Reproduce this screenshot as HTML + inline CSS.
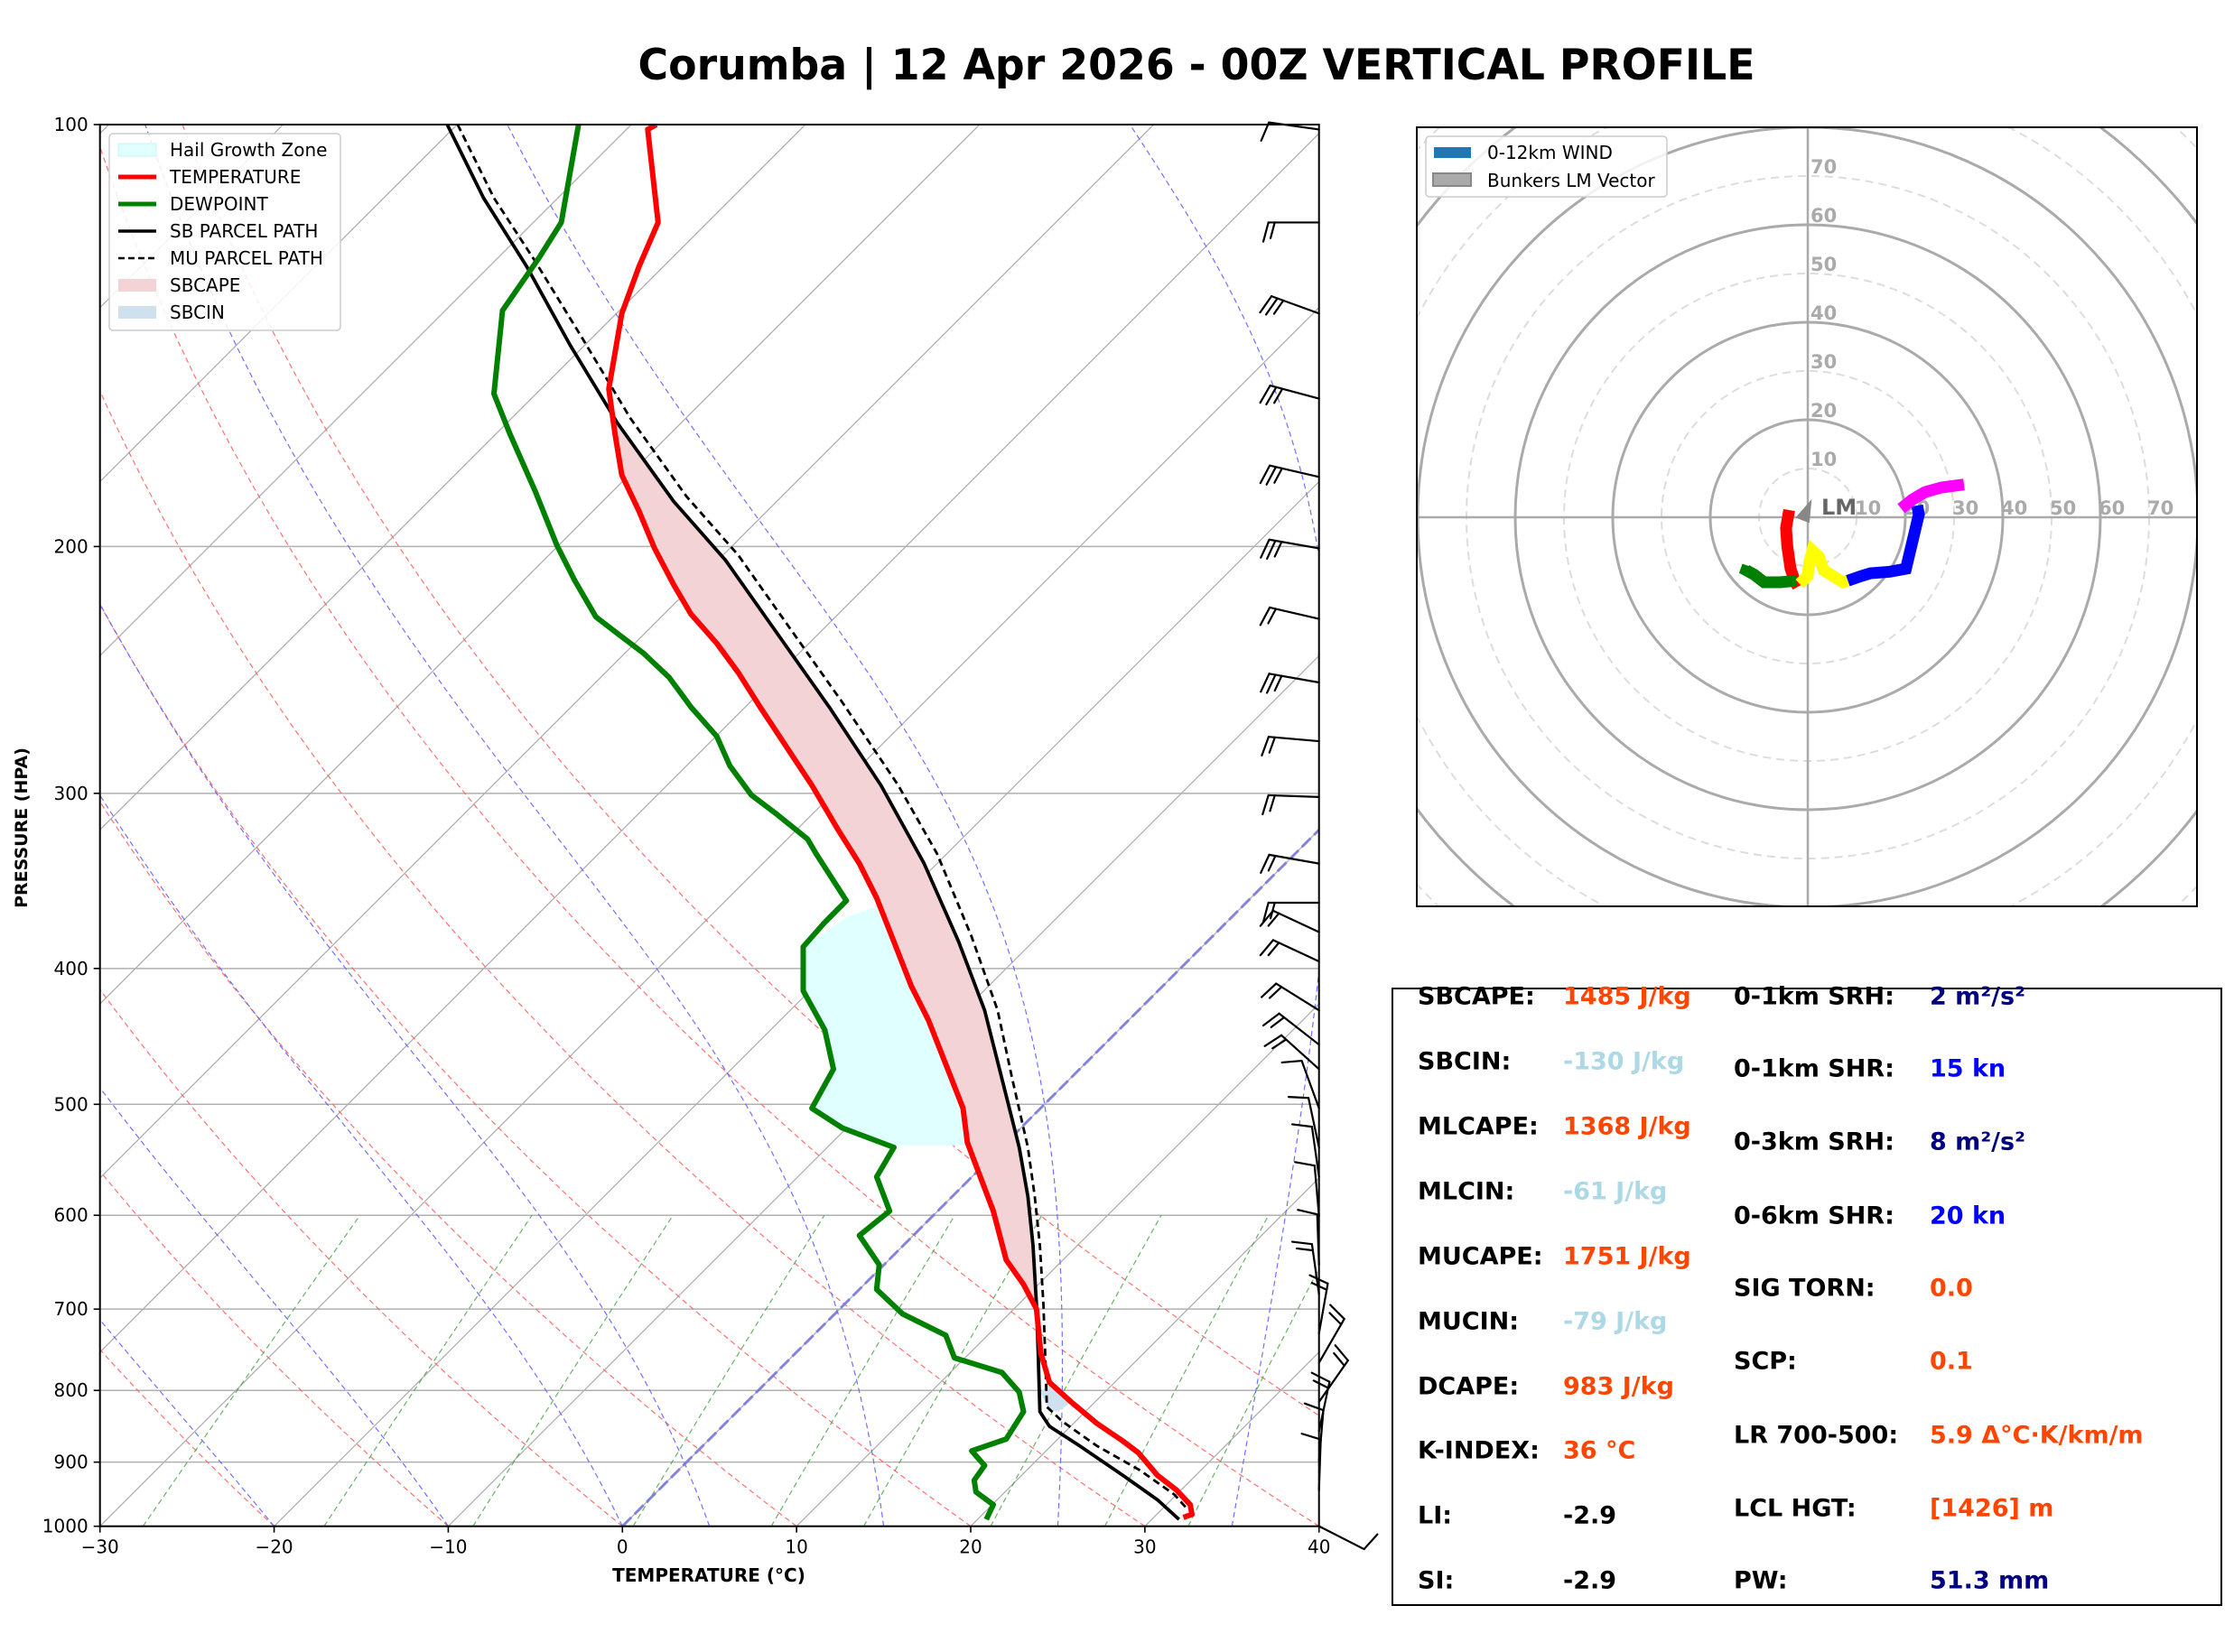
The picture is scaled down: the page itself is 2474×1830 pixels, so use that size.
<!DOCTYPE html>
<html><head><meta charset="utf-8">
<style>
html,body{margin:0;padding:0;background:#fff;}
svg{display:block;font-family:"DejaVu Sans","Liberation Sans",sans-serif;}
</style></head>
<body>
<svg id="s" width="2474" height="1830" viewBox="0 0 2474 1830" xmlns="http://www.w3.org/2000/svg">
<defs>
<clipPath id="ca"><rect x="110.7" y="138" width="1350" height="1552.7"/></clipPath>
<clipPath id="ch"><rect x="1569" y="141" width="864" height="863"/></clipPath>
</defs>
<rect width="2474" height="1830" fill="#fff"/>
<g id="skew" clip-path="url(#ca)"></g>
<g id="barbs" stroke="#000" stroke-width="2.2" fill="none" stroke-linecap="round"></g>
<rect x="110.7" y="138" width="1350" height="1552.7" fill="none" stroke="#000" stroke-width="2"/>
<g id="ticks" font-size="20" fill="#000"></g>
<text x="785" y="1752" font-size="20" font-weight="bold" text-anchor="middle">TEMPERATURE (°C)</text>
<text transform="translate(30,917) rotate(-90)" font-size="19" font-weight="bold" text-anchor="middle">PRESSURE (HPA)</text>
<text x="1325" y="88" font-size="47" font-weight="bold" text-anchor="middle" textLength="1237" lengthAdjust="spacingAndGlyphs">Corumba | 12 Apr 2026 - 00Z VERTICAL PROFILE</text>

<g font-size="20">
<rect x="121" y="148" width="256" height="218" rx="4" fill="#fff" fill-opacity="0.85" stroke="#ccc" stroke-width="1.5"/>
<rect x="131" y="159" width="42" height="14" fill="#e0ffff" stroke="#c8f4f4"/>
<text x="188" y="173">Hail Growth Zone</text>
<line x1="131" y1="196" x2="173" y2="196" stroke="#f00" stroke-width="5"/>
<text x="188" y="203">TEMPERATURE</text>
<line x1="131" y1="226" x2="173" y2="226" stroke="#008000" stroke-width="5"/>
<text x="188" y="233">DEWPOINT</text>
<line x1="131" y1="256" x2="173" y2="256" stroke="#000" stroke-width="3.5"/>
<text x="188" y="263">SB PARCEL PATH</text>
<line x1="131" y1="286" x2="173" y2="286" stroke="#000" stroke-width="2.5" stroke-dasharray="7,4"/>
<text x="188" y="293">MU PARCEL PATH</text>
<rect x="131" y="309" width="42" height="14" fill="#f4d3d6"/>
<text x="188" y="323">SBCAPE</text>
<rect x="131" y="339" width="42" height="14" fill="#cfe0ee"/>
<text x="188" y="353">SBCIN</text>
</g>

<g id="hodo" clip-path="url(#ch)"></g>
<rect x="1569" y="141" width="864" height="863" fill="none" stroke="#000" stroke-width="2"/>
<g font-size="20">
<rect x="1579" y="151" width="267" height="67" rx="4" fill="#fff" fill-opacity="0.85" stroke="#ccc" stroke-width="1.5"/>
<rect x="1588" y="163" width="41" height="12" fill="#1f77b4"/>
<text x="1647" y="176">0-12km WIND</text>
<rect x="1587" y="192" width="42" height="14" fill="#aaa" stroke="#888" stroke-width="2"/>
<text x="1647" y="207">Bunkers LM Vector</text>
</g>

<rect x="1542" y="1095" width="918" height="683" fill="none" stroke="#000" stroke-width="2"/>
<g font-size="27" font-weight="bold" dominant-baseline="central">
<text x="1570" y="1104">SBCAPE:</text><text x="1731" y="1104" fill="#ff4500">1485 J/kg</text>
<text x="1570" y="1176">SBCIN:</text><text x="1731" y="1176" fill="#add8e6">-130 J/kg</text>
<text x="1570" y="1248">MLCAPE:</text><text x="1731" y="1248" fill="#ff4500">1368 J/kg</text>
<text x="1570" y="1320">MLCIN:</text><text x="1731" y="1320" fill="#add8e6">-61 J/kg</text>
<text x="1570" y="1392">MUCAPE:</text><text x="1731" y="1392" fill="#ff4500">1751 J/kg</text>
<text x="1570" y="1464">MUCIN:</text><text x="1731" y="1464" fill="#add8e6">-79 J/kg</text>
<text x="1570" y="1536">DCAPE:</text><text x="1731" y="1536" fill="#ff4500">983 J/kg</text>
<text x="1570" y="1607">K-INDEX:</text><text x="1731" y="1607" fill="#ff4500">36 °C</text>
<text x="1570" y="1679">LI:</text><text x="1731" y="1679">-2.9</text>
<text x="1570" y="1751">SI:</text><text x="1731" y="1751">-2.9</text>
<text x="1920" y="1104">0-1km SRH:</text><text x="2137" y="1104" fill="#000080">2 m²/s²</text>
<text x="1920" y="1184">0-1km SHR:</text><text x="2137" y="1184" fill="#0000ff">15 kn</text>
<text x="1920" y="1265">0-3km SRH:</text><text x="2137" y="1265" fill="#000080">8 m²/s²</text>
<text x="1920" y="1347">0-6km SHR:</text><text x="2137" y="1347" fill="#0000ff">20 kn</text>
<text x="1920" y="1427">SIG TORN:</text><text x="2137" y="1427" fill="#ff4500">0.0</text>
<text x="1920" y="1508">SCP:</text><text x="2137" y="1508" fill="#ff4500">0.1</text>
<text x="1920" y="1590">LR 700-500:</text><text x="2137" y="1590" fill="#ff4500">5.9 Δ°C·K/km/m</text>
<text x="1920" y="1671">LCL HGT:</text><text x="2137" y="1671" fill="#ff4500">[1426] m</text>
<text x="1920" y="1751">PW:</text><text x="2137" y="1751" fill="#000080">51.3 mm</text>
</g>
</svg>
<script>
(function(){
var NS="http://www.w3.org/2000/svg";
function el(parent,tag,attrs,txt){var e=document.createElementNS(NS,tag);for(var k in attrs)e.setAttribute(k,attrs[k]);if(txt!==undefined)e.textContent=txt;parent.appendChild(e);return e;}
var B=1690.7,L=110.7,H=1552.7,PX=19.286;
function yp(p){return B-Math.log10(1000/p)*H;}
function xy(T,p){var y=yp(p);return [L+(T+30)*PX+(B-y),y];}
function pts(a){return a.map(function(q){return q[0].toFixed(1)+","+q[1].toFixed(1);}).join(" ");}
var g=document.getElementById("skew");
for(var p=100;p<=1000;p+=100){var y=yp(p);el(g,"line",{x1:L,x2:L+1350,y1:y,y2:y,stroke:"#b0b0b0","stroke-width":1.5});}
for(var T=-130;T<=40;T+=10){var x=L+(T+30)*PX;el(g,"line",{x1:x,y1:B,x2:x+H,y2:B-H,stroke:"#b0b0b0","stroke-width":1.3});}
for(var T=-30;T<=50;T+=10){var a=[];for(var p=1000;p>=100;p-=10){var t=(T+273.15)*Math.pow(p/1000,0.2857)-273.15;a.push(xy(t,p));}
el(g,"polyline",{points:pts(a),fill:"none",stroke:"#ff6060","stroke-width":1.2,"stroke-dasharray":"6,4","stroke-opacity":0.9});}
var Rd=287.04,Cp=1005.7,Lv=2.501e6,eps=0.622;
function es(tc){return 6.112*Math.exp(17.67*tc/(tc+243.5));}
[-20,-10,0,5,15,25,35].forEach(function(T){var t=T+273.15,a=[];for(var p=1000;p>=100;p-=2){a.push(xy(t-273.15,p));var e=es(t-273.15),rs=eps*e/(p-e);var d=(Rd*t+Lv*rs)/(Cp+Lv*Lv*rs*eps/(Rd*t*t))/p;t-=d*2;}
el(g,"polyline",{points:pts(a),fill:"none",stroke:"#6060ff","stroke-width":1.2,"stroke-dasharray":"6,4","stroke-opacity":0.9});});
[0.0004,0.001,0.002,0.004,0.007,0.01,0.016,0.024,0.032].forEach(function(w){var a=[];for(var p=1000;p>=600;p-=20){var e=p*w/(eps+w),l=Math.log(e/6.112);a.push(xy(243.5*l/(17.67-l),p));}
el(g,"polyline",{points:pts(a),fill:"none",stroke:"#40a040","stroke-width":1.2,"stroke-dasharray":"6,4","stroke-opacity":0.8});});
var x0=L+30*PX;el(g,"line",{x1:x0,y1:B,x2:x0+H,y2:B-H,stroke:"#7070e0","stroke-width":3,"stroke-dasharray":"14,5","stroke-opacity":0.8});
function cv(a){return a.map(function(q){return [110.7+(q[0]-116)/1.0452,138+(q[1]-35)/0.9223];});}
var temp=cv([[760,35],[750,40],[762,135],[740,180],[720,228],[705,305],[712,350],[720,393],[740,430],[758,468],[780,505],[800,535],[830,565],[855,595],[880,630],[910,670],[940,710],[970,755],[995,790],[1015,825],[1035,870],[1055,915],[1075,950],[1095,995],[1115,1040],[1120,1075],[1135,1110],[1150,1145],[1165,1195],[1185,1220],[1200,1245],[1205,1290],[1215,1320],[1240,1340],[1270,1362],[1300,1380],[1318,1392],[1340,1415],[1362,1430],[1378,1445],[1380,1455],[1370,1458]]);
var dew=cv([[670,35],[650,135],[625,170],[582,225],[572,310],[590,350],[620,410],[645,465],[665,500],[690,538],[715,555],[745,575],[775,600],[800,630],[830,660],[845,690],[870,720],[900,740],[935,765],[945,780],[980,828],[955,850],[930,875],[930,920],[955,960],[965,1000],[940,1040],[975,1060],[1035,1080],[1015,1110],[1030,1145],[995,1170],[1018,1200],[1015,1225],[1045,1250],[1095,1272],[1105,1295],[1160,1310],[1180,1330],[1185,1350],[1165,1378],[1125,1390],[1130,1395],[1140,1405],[1128,1420],[1130,1432],[1150,1445],[1142,1460]]);
var sb=cv([[518,35],[560,110],[610,180],[660,260],[715,340],[780,420],[840,480],[900,555],[960,630],[1020,710],[1070,790],[1110,870],[1140,940],[1160,1010],[1180,1080],[1190,1130],[1196,1180],[1200,1240],[1202,1290],[1204,1350],[1215,1365],[1250,1385],[1300,1415],[1340,1440],[1365,1460]]);
var mu=cv([[530,35],[572,110],[620,175],[672,250],[730,335],[795,415],[855,475],[915,550],[975,625],[1040,710],[1085,780],[1125,865],[1155,940],[1172,1010],[1190,1080],[1198,1130],[1204,1180],[1208,1240],[1210,1290],[1212,1345],[1230,1360],[1270,1385],[1320,1410],[1360,1435],[1375,1450]]);
var hgz=cv([[1020,832],[980,845],[935,872],[930,920],[955,960],[965,1000],[940,1040],[975,1060],[1035,1078],[1118,1078],[1115,1040],[1095,995],[1075,950],[1055,915],[1035,870],[1020,832]]);
el(g,"polygon",{points:pts(hgz),fill:"#e0ffff"});
var cape=cv([[705,305],[715,340],[780,420],[840,480],[900,555],[960,630],[1020,710],[1070,790],[1110,870],[1140,940],[1160,1010],[1180,1080],[1190,1130],[1196,1180],[1200,1240],[1185,1220],[1165,1195],[1150,1145],[1135,1110],[1120,1075],[1115,1040],[1095,995],[1075,950],[1055,915],[1035,870],[1015,825],[995,790],[970,755],[940,710],[910,670],[880,630],[855,595],[830,565],[800,535],[780,505],[758,468],[740,430],[720,393],[712,350]]);
el(g,"polygon",{points:pts(cape),fill:"#f4d3d6"});
var cin=cv([[1204,1330],[1215,1322],[1240,1340],[1225,1350],[1215,1348]]);
el(g,"polygon",{points:pts(cin),fill:"#cfe0ee"});
el(g,"polyline",{points:pts(mu),fill:"none",stroke:"#000","stroke-width":2.8,"stroke-dasharray":"8,5"});
el(g,"polyline",{points:pts(sb),fill:"none",stroke:"#000","stroke-width":3.8,"stroke-linejoin":"round"});
el(g,"polyline",{points:pts(dew),fill:"none",stroke:"#008000","stroke-width":6,"stroke-linejoin":"round"});
el(g,"polyline",{points:pts(temp),fill:"none",stroke:"#ff0000","stroke-width":6,"stroke-linejoin":"round"});
var tk=document.getElementById("ticks");
for(var p=100;p<=1000;p+=100){var y=yp(p);el(tk,"line",{x1:L-7,x2:L,y1:y,y2:y,stroke:"#000","stroke-width":1.6});el(tk,"text",{x:L-13,y:y+7,"text-anchor":"end"},""+p);}
for(var T=-30;T<=40;T+=10){var x=L+(T+30)*PX;el(tk,"line",{x1:x,x2:x,y1:B,y2:B+7,stroke:"#000","stroke-width":1.6});el(tk,"text",{x:x,y:B+30,"text-anchor":"middle"},(T<0?"\u2212"+(-T):""+T));}
var bg=document.getElementById("barbs");
var bl=[[40,188,1],[135,180,2],[228,200,3],[315,195,3],[395,193,3],[468,190,3],[540,193,2],[605,190,3],[665,185,2],[722,182,2],[790,190,2],[830,180,2],[860,205,2],[890,205,2],[940,212,2],[975,218,2],[1000,222,2],[1040,250,1],[1080,258,1],[1110,262,1],[1150,265,1],[1200,268,1],[1230,262,2],[1270,280,2],[1300,300,2],[1340,305,2],[1370,282,2],[1400,275,1],[1430,272,1],[1467,27,1]];
bl.forEach(function(b){var y=138+(b[0]-35)/0.9223,a=b[1]*Math.PI/180,Ls=56;var bx=1460.7,by=y,ex=bx+Ls*Math.cos(a),ey=by+Ls*Math.sin(a);
el(bg,"line",{x1:bx,y1:by,x2:ex,y2:ey});var fa=(b[1]-75)*Math.PI/180;
for(var i=0;i<b[2];i++){var sx=ex-i*7*Math.cos(a),sy=ey-i*7*Math.sin(a);var fl=(i==b[2]-1&&b[2]>1)?18:22;el(bg,"line",{x1:sx,y1:sy,x2:sx+fl*Math.cos(fa),y2:sy+fl*Math.sin(fa)});}});
var h=document.getElementById("hodo"),cx=2002,cy=573,K=5.4;
for(var r=10;r<=130;r+=10){var solid=(r%20==0);el(h,"circle",{cx:cx,cy:cy,r:r*K,fill:"none",stroke:solid?"#aaa":"#ddd","stroke-width":solid?3:2,"stroke-dasharray":solid?"none":"9,6"});}
el(h,"line",{x1:1569,x2:2433,y1:cy,y2:cy,stroke:"#aaa","stroke-width":2.5});
el(h,"line",{x1:cx,x2:cx,y1:141,y2:1004,stroke:"#aaa","stroke-width":2.5});
for(var r=10;r<=70;r+=10){el(h,"text",{x:cx+3,y:cy-r*K-3,"font-size":21,"font-weight":"bold",fill:"#aaa"},""+r);el(h,"text",{x:cx+r*K-2,y:cy-3,"font-size":21,"font-weight":"bold",fill:"#aaa"},""+r);}
function hc(a){return a.map(function(q){return [1900+q[0]/2.8,450+q[1]/3];});}
function hl(a,c){el(h,"polyline",{points:pts(hc(a)),fill:"none",stroke:c,"stroke-width":13,"stroke-linejoin":"miter"});}
hl([[228,345],[218,405],[222,465],[232,540],[245,580],[255,600]],"#ff0000");
hl([[250,580],[200,585],[150,585],[120,560],[95,545],[100,530]],"#008000");
hl([[260,590],[285,565],[290,520],[300,480],[320,500],[335,545],[395,585],[410,580]],"#ffff00");
hl([[410,580],[450,565],[480,555],[540,550],[590,540],[630,360],[625,330]],"#0000ff");
hl([[575,340],[610,310],[650,285],[700,270],[770,260]],"#ff00ff");
el(h,"polygon",{points:"1990,573 2005,556 2003,578",fill:"#888",stroke:"#888","stroke-width":2});
el(h,"text",{x:2017,y:570,"font-size":24,"font-weight":"bold",fill:"#666"},"LM");
})();
</script>
</body></html>
